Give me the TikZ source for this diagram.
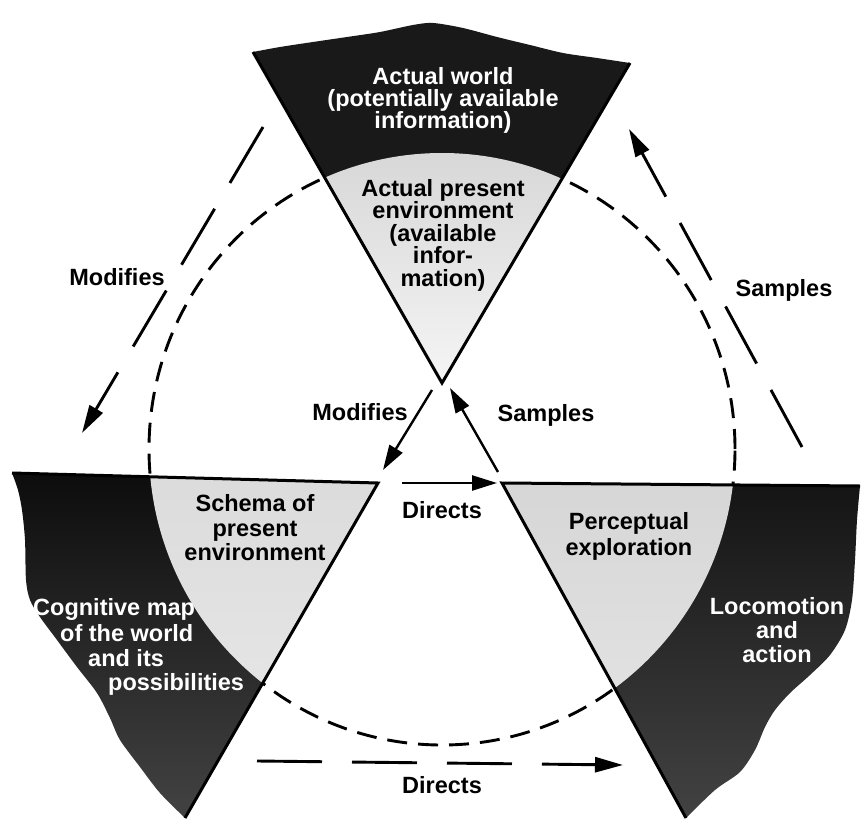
\documentclass[tikz,border=0pt]{standalone}
\usepackage{fontspec}
\setmainfont{Liberation Sans}
\usetikzlibrary{arrows.meta}
\begin{document}
\begin{tikzpicture}[x=1pt,y=-1pt,
  txt/.style={font=\fontsize{23.5}{#1}\selectfont\bfseries, align=center, inner sep=0pt},
  txt/.default=22,
  whitetxt/.style={txt=#1, text=white},
  whitetxt/.default=22,
  edge/.style={line width=3pt, line join=miter},
  longarrow/.style={line width=2.9pt, dash pattern=on 65pt off 30pt,
    -{Triangle[length=28pt,width=15pt]}},
  shortarrow/.style={line width=2.4pt, -{Triangle[length=25pt,width=15pt]}},
  ring/.style={line width=2.9pt, dash pattern=on 20pt off 11pt},
  toptri/.style={insert path={(253,52) -- plot[smooth] coordinates {(253,52) (280,47) (313,42) (347,37) (380,32) (413,25) (433,23) (463,28) (497,37) (530,45) (563,53) (597,58) (630,63)} -- (442,383) -- cycle}},
  lefttri/.style={insert path={(12,473) -- (378,483) -- (185,818) -- plot[smooth] coordinates {(185,818) (160,793) (140,767) (120,740) (110,718) (97,693) (77,667) (57,640) (40,617) (30,600) (26,580) (25,540) (22,510) (18,490) (12,473)} -- cycle}},
  righttri/.style={insert path={(502,483) -- (860,486) -- plot[smooth] coordinates {(860,486) (857,520) (855,560) (852,600) (845,630) (830,655) (810,675) (790,693) (775,710) (765,727) (755,750) (740,772) (715,790) (686,818)} -- cycle}},
  ringpath/.style={insert path={(442,449) ellipse [x radius=293pt, y radius=296pt]}}
]
\useasboundingbox (0,0) rectangle (864,821);

% triangle corners
\coordinate (tL) at (253,52);
\coordinate (tR) at (630,63);
\coordinate (tA) at (442,383);
\coordinate (lL) at (12,473);
\coordinate (lR) at (378,483);
\coordinate (lA) at (185,818);
\coordinate (rL) at (502,483);
\coordinate (rR) at (860,486);
\coordinate (rA) at (686,818);

% the dashed cycle, partly covered by the three wedges
\draw[ring, ringpath];

% dark wedges
\fill[black!90, toptri];
\shade[top color=black!95, bottom color=black!74, lefttri];
\shade[top color=black!92, bottom color=black!74, righttri];

% light parts of the wedges inside the cycle
\begin{scope}
  \clip[ringpath];
  \shade[top color=black!22, bottom color=black!4, toptri];
  \shade[top color=black!14, bottom color=black!8, lefttri];
  \shade[top color=black!16, bottom color=black!9, righttri];
\end{scope}

% straight wedge sides
\draw[edge] (tL) -- (tA) -- (tR);
\draw[edge] (lL) -- (lR) -- (lA);
\draw[edge] (rR) -- (rL) -- (rA);

% texts
\node[whitetxt] (world) at (443,100) {Actual world\\(potentially available\\information)};
\node[txt=22.5] (present) at (443,235) {Actual present\\environment\\(available\\infor-\\mation)};
\node[txt=24.5] (schema) at (255,528) {Schema of\\present\\environment};
\node[txt=26] (percept) at (629,536) {Perceptual\\exploration};
\node[whitetxt=24] (loco) at (777,630) {Locomotion\\and\\action};
\node[whitetxt, anchor=base west] (cog1) at (33,615) {Cognitive map};
\node[whitetxt, anchor=base west] (cog2) at (60,641) {of the world};
\node[whitetxt, anchor=base west] (cog3) at (88,666) {and its};
\node[whitetxt, anchor=base west] (cog4) at (108,690) {possibilities};

% outer arrows
\coordinate (modS) at (263,127);
\coordinate (modE) at (82,433);
\coordinate (samS) at (802,447);
\coordinate (samE) at (629,129);
\coordinate (dirS) at (257,761);
\coordinate (dirE) at (623,765);
\draw[longarrow] (modS) -- (modE);
\draw[longarrow] (samS) -- (samE);
\draw[longarrow] (dirS) -- (dirE);
\node[txt] (modOut) at (117,277) {Modifies};
\node[txt] (samOut) at (784,290) {Samples};
\node[txt] (dirOut) at (442,785) {Directs};

% inner arrows
\coordinate (imS) at (432,390);
\coordinate (imE) at (383,470);
\coordinate (isS) at (498,472);
\coordinate (isE) at (450,388);
\coordinate (idS) at (402,483);
\coordinate (idE) at (497,483);
\draw[shortarrow] (imS) -- (imE);
\draw[shortarrow] (isS) -- (isE);
\draw[shortarrow] (idS) -- (idE);
\node[txt] (modIn) at (360,412) {Modifies};
\node[txt] (samIn) at (546,415) {Samples};
\node[txt] (dirIn) at (442,510) {Directs};
\end{tikzpicture}
\end{document}
